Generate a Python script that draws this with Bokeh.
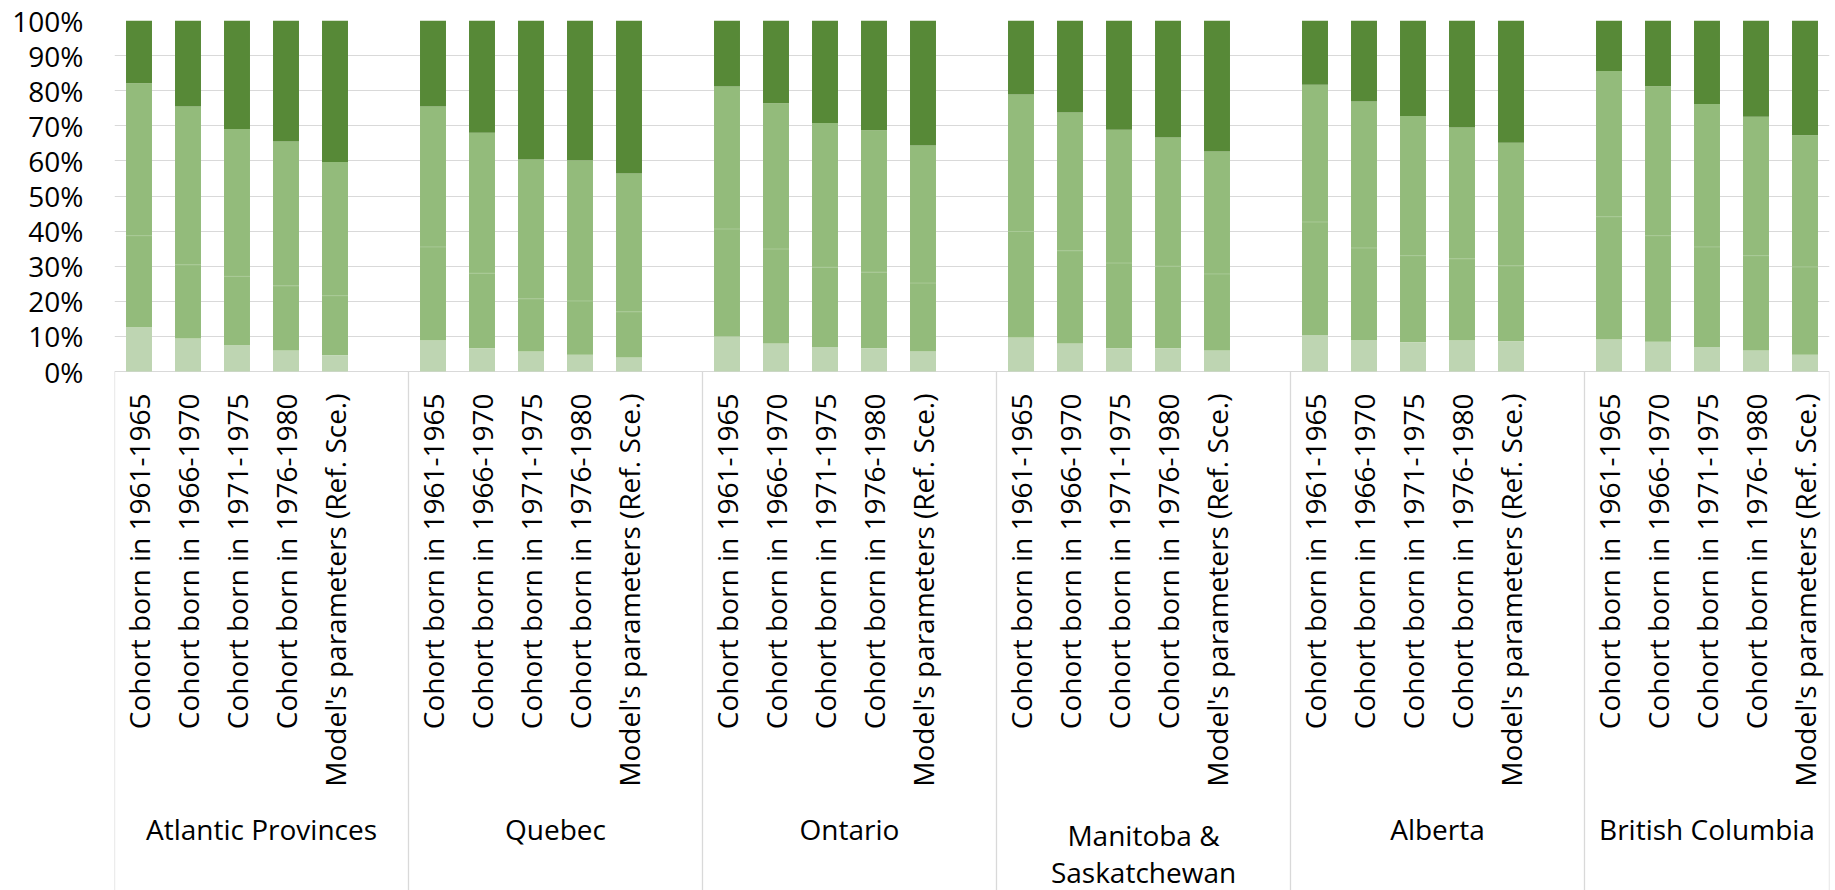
from bokeh.plotting import figure
from bokeh.models import Range1d, FixedTicker, NumeralTickFormatter, ColumnDataSource
from bokeh.core.properties import value
from bokeh.embed import file_html
from bokeh.resources import INLINE

# ---------------- data (shares, %) ----------------
regions = ["Atlantic Provinces", "Quebec", "Ontario", "Manitoba &\nSaskatchewan",
           "Alberta", "British Columbia"]
cohorts = ["Cohort born in 1961-1965", "Cohort born in 1966-1970",
           "Cohort born in 1971-1975", "Cohort born in 1976-1980",
           "Model's parameters (Ref. Sce.)"]

# bottom (lightest) segment
seg1 = [12.6, 9.4, 7.5, 6.0, 4.6,
        8.8, 6.6, 5.7, 4.8, 4.0,
        10.0, 8.0, 7.0, 6.6, 5.8,
        9.7, 8.0, 6.6, 6.6, 6.0,
        10.4, 9.0, 8.3, 8.8, 8.6,
        9.1, 8.5, 7.0, 6.0, 4.8]
# second segment
seg2 = [26.1, 21.0, 19.6, 18.4, 17.0,
        26.7, 21.4, 15.0, 15.3, 13.0,
        30.6, 26.9, 22.7, 21.7, 19.4,
        30.2, 26.4, 24.3, 23.4, 21.8,
        32.2, 26.2, 24.7, 23.3, 21.5,
        35.0, 30.2, 28.5, 27.0, 25.0]
# third segment
seg3 = [43.4, 45.1, 42.0, 41.1, 38.1,
        40.0, 40.0, 39.7, 40.1, 39.4,
        40.6, 41.5, 41.1, 40.4, 39.2,
        39.0, 39.4, 38.0, 36.7, 34.9,
        39.1, 41.7, 39.8, 37.4, 35.1,
        41.5, 42.6, 40.7, 39.6, 37.5]
# top (darkest) segment
seg4 = [17.9, 24.5, 30.9, 34.5, 40.3,
        24.5, 32.0, 39.6, 39.8, 43.6,
        18.8, 23.6, 29.2, 31.3, 35.6,
        21.1, 26.2, 31.1, 33.3, 37.3,
        18.3, 23.1, 27.2, 30.5, 34.8,
        14.4, 18.7, 23.8, 27.4, 32.7]

y_ticks = [i / 10 for i in range(11)]

# ---------------- layout helpers ----------------
n_reg = len(regions)
n_coh = len(cohorts)
slot = n_coh + 1                       # one empty slot after each region
x_total = n_reg * slot - 1
ymin = -1.4786

xs, labels = [], []
for g in range(n_reg):
    for i in range(n_coh):
        xs.append(g * slot + i + 0.5)
        labels.append(cohorts[i])

s1 = [v / 100 for v in seg1]
s2 = [v / 100 for v in seg2]
s3 = [v / 100 for v in seg3]
s4 = [v / 100 for v in seg4]
b1 = s1
b2 = [a + b for a, b in zip(b1, s2)]
b3 = [a + b for a, b in zip(b2, s3)]
b4 = [a + b for a, b in zip(b3, s4)]

src = ColumnDataSource(dict(x=xs, b0=[0] * len(xs), b1=b1, b2=b2, b3=b3, b4=b4, lab=labels))

p = figure(frame_width=1715, frame_height=870, output_backend="svg", toolbar_location=None,
           x_range=Range1d(0, x_total), y_range=Range1d(ymin, 1.0),
           x_axis_location=None, min_border_left=114, min_border_right=6,
           min_border_top=20, min_border_bottom=0)
p.outline_line_color = None
p.xgrid.visible = False
p.ygrid.grid_line_color = "#D9D9D9"
p.ygrid.grid_line_width = 1

FONT = "Open Sans"
FS = "28px"
p.yaxis.ticker = FixedTicker(ticks=y_ticks)
p.yaxis.formatter = NumeralTickFormatter(format="0%")
p.yaxis.axis_line_color = None
p.yaxis.major_tick_line_color = None
p.yaxis.minor_tick_line_color = None
p.yaxis.major_tick_out = 0
p.yaxis.major_label_standoff = 31
p.yaxis.major_label_text_font = FONT
p.yaxis.major_label_text_font_size = FS
p.yaxis.major_label_text_color = "#000000"

W = 0.53
light, mid, dark = "#BED5B2", "#93BB7B", "#578937"
p.vbar(x="x", bottom="b0", top="b1", width=W, color=light, line_color=None, source=src)
p.vbar(x="x", bottom="b1", top="b2", width=W, color=mid, line_color=None, source=src)
p.vbar(x="x", bottom="b2", top="b3", width=W, color=mid, line_color=None, source=src)
p.vbar(x="x", bottom="b3", top="b4", width=W, color=dark, line_color=None, source=src)
# faint boundary between the two middle segments
p.segment(x0=[x - W / 2 for x in xs], x1=[x + W / 2 for x in xs], y0=b2, y1=b2,
          line_color="#A9C996", line_width=1)

# separators in the category area
seps = [g * slot for g in range(n_reg)] + [x_total]
p.segment(x0=seps, x1=seps, y0=[0] * len(seps), y1=[ymin] * len(seps),
          line_color="#D9D9D9", line_width=1.3)

# category labels (rotated)
p.text(x="x", y=-0.0627, text="lab", angle=1.5707963, source=src,
       text_align="right", text_baseline="middle",
       text_font=value(FONT), text_font_size=FS, text_color="#000000")

# region labels (multi-line names split into separate lines)
line_gap = 0.105
gx, gy, gt = [], [], []
for g in range(n_reg):
    end = min(g * slot + slot, x_total)
    lines = regions[g].split("\n")
    centre = -1.302 if len(lines) == 1 else -1.373
    for j, ln in enumerate(lines):
        gx.append((g * slot + end) / 2)
        gy.append(centre - (j - (len(lines) - 1) / 2) * line_gap)
        gt.append(ln)
p.text(x=gx, y=gy, text=gt, text_align="center", text_baseline="middle",
       text_font=value(FONT), text_font_size=FS, text_color="#000000")

open("out.html", "w").write(file_html(p, INLINE))
